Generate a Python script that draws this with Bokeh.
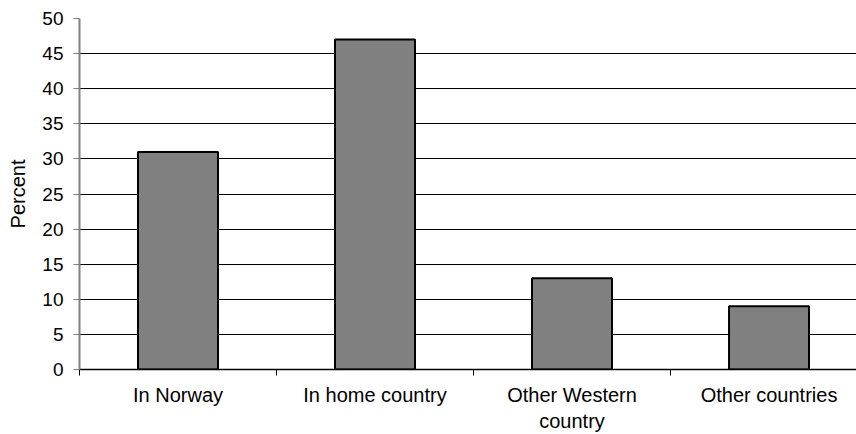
from bokeh.plotting import figure
from bokeh.models import FixedTicker, Range1d, ColumnDataSource
from bokeh.embed import file_html
from bokeh.resources import INLINE

categories = ["In Norway", "In home country", "Other Western\ncountry", "Other countries"]
values = [31, 47, 13, 9]
y_ticks = list(range(0, 51, 5))

centers = [i + 0.5 for i in range(len(categories))]
bounds = list(range(len(categories)))
src = ColumnDataSource(dict(x=centers, top=values))

FONT = "Liberation Sans"

p = figure(width=856, height=434, output_backend="svg", toolbar_location=None,
           x_range=Range1d(0, 3.944), y_range=Range1d(0, 50),
           min_border_left=79, min_border_right=0, min_border_top=18, min_border_bottom=10)
p.outline_line_color = None
p.background_fill_color = "white"

p.vbar(x="x", top="top", width=0.406, bottom=0, source=src,
       fill_color="#808080", line_color="black", line_width=2)

# grid
p.xgrid.visible = False
p.ygrid.ticker = FixedTicker(ticks=y_ticks)
p.ygrid.grid_line_color = "black"
p.ygrid.grid_line_width = 1

# y axis
p.yaxis.ticker = FixedTicker(ticks=y_ticks)
p.yaxis.axis_label = "Percent"
p.yaxis.axis_label_text_font = FONT
p.yaxis.axis_label_text_font_style = "normal"
p.yaxis.axis_label_text_font_size = "20px"
p.yaxis.axis_label_text_color = "black"
p.yaxis.axis_label_standoff = 10
p.yaxis.major_label_text_font = FONT
p.yaxis.major_label_text_font_size = "19px"
p.yaxis.major_label_text_color = "black"
p.yaxis.major_label_standoff = 10
p.yaxis.axis_line_color = "#808080"
p.yaxis.axis_line_width = 2
p.yaxis.major_tick_line_color = "#808080"
p.yaxis.major_tick_out = 6
p.yaxis.major_tick_in = 0
p.yaxis.minor_tick_line_color = None

# x axis
p.xaxis.ticker = FixedTicker(ticks=centers, minor_ticks=bounds)
p.xaxis.major_label_overrides = {c: lab for c, lab in zip(centers, categories)}
p.xaxis.major_label_text_font = FONT
p.xaxis.major_label_text_font_size = "20px"
p.xaxis.major_label_text_color = "black"
p.xaxis.major_label_text_line_height = 1.2
p.xaxis.major_label_standoff = 8
p.xaxis.major_tick_line_color = None
p.xaxis.minor_tick_line_color = "black"
p.xaxis.minor_tick_out = 6
p.xaxis.minor_tick_in = 0
p.xaxis.axis_line_color = "black"
p.xaxis.axis_line_width = 1.5

open("out.html", "w").write(file_html(p, INLINE))
